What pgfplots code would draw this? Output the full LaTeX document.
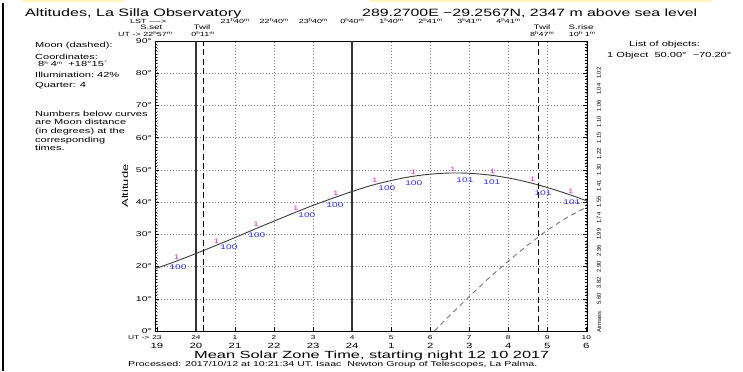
\documentclass[border=0pt]{standalone}
\usepackage{pgfplots}
\pgfplotsset{compat=1.18}
\usepackage{graphicx}
\usepackage{fontspec}
\setmainfont{Liberation Sans}
\newfontfamily\pg[FakeStretch=1.5]{Liberation Sans}
\newfontfamily\pgw[FakeStretch=1.58]{Liberation Sans}
\newcommand\fs[1]{\fontsize{#1}{#1}\selectfont}
\newcommand\su[1]{\raisebox{2bp}{\fontsize{4.2}{4.2}\selectfont #1}}
\definecolor{mag}{RGB}{235,40,225}
\definecolor{blu}{RGB}{45,45,235}
\definecolor{crv}{RGB}{60,60,60}
\definecolor{moon}{RGB}{120,120,120}
\definecolor{gridc}{RGB}{130,130,130}
\definecolor{ylw}{RGB}{255,244,185}

\pgfplotstableread{
x y
-1.05 19.3
-0.5 21.7
0 24.05
0.5 26.5
1 29.0
1.5 31.6
2 34.1
2.5 36.6
3 39.0
3.5 41.2
4 43.3
4.5 45.2
5 46.7
5.5 47.9
6 48.67
6.5 49.03
7 48.95
7.5 48.43
8 47.5
8.5 46.18
9 44.53
9.5 42.6
10 40.45
10.017 40.35
}\objtab

\pgfplotstableread{
x y
6.103 0
6.5 4.8
7 10.7
7.5 16.4
8 21.7
8.5 26.7
9 31.3
9.5 35.2
10 38.45
10.017 38.55
}\moontab

\pgfplotstableread{
x y lab
-0.5 21.7 1
0.52 26.6 1
1.54 31.8 1
2.56 36.9 1
3.58 41.5 1
4.58 45.45 1
5.57 48.0 1
6.58 49.05 1
7.6 48.25 1
8.62 45.8 1
9.6 42.2 1
}\magtab

\pgfplotstableread{
x y lab
-0.46 21.9 100
0.845 28.2 100
1.56 31.9 100
2.84 38.2 100
3.56 41.4 100
4.89 46.4 100
5.58 48.0 100
6.89 49.0 101
7.58 48.3 101
8.89 44.9 101
9.63 42.1 101
}\blutab

\pgfplotstableread{
x y ut loc
-1 0 23 19
0 0 24 20
1 0 1 21
2 0 2 22
3 0 3 23
4 0 4 24
5 0 5 1
6 0 6 2
7 0 7 3
8 0 8 4
9 0 9 5
10 0 10 6
}\ticktab

\begin{document}
\begin{tikzpicture}[x=1bp,y=1bp]
\useasboundingbox (0,0) rectangle (743,371);
\fill[white] (0,0) rectangle (743,371);
\fill[ylw] (23,369) rectangle (125,371);
\fill[ylw] (370,369) rectangle (712,371);
\fill[black] (2,0) rectangle (4,368);
\begin{axis}[
  at={(155bp,40bp)}, anchor=south west,
  scale only axis, width=432bp, height=290bp,
  xmin=-1.05, xmax=10.017, ymin=0, ymax=90,
  clip=false,
  axis line style={black, line width=0.8bp},
  xtick={-1,0,...,10}, xticklabels={},
  ytick={0,10,...,90},
  yticklabels={0°,10°,20°,30°,40°,50°,60°,70°,80°,90°},
  minor y tick num=9,
  xtick pos=bottom, ytick pos=both, yticklabel pos=left,
  tick align=inside,
  major tick length=4bp, minor tick length=2bp,
  tick style={black, line width=0.5bp},
  yticklabel style={font=\pg\fs{7}, anchor=east, inner sep=0pt, xshift=-3bp},
  grid=major,
  major grid style={gridc, line width=0.5bp, dash pattern=on 1bp off 2bp},
  lbl/.style={only marks, mark=none, nodes near coords, point meta=explicit symbolic},
]
% object curve
\addplot[crv, line width=0.9bp, mark=none, smooth] table[x=x,y=y] {\objtab};
% moon
\addplot[moon, line width=0.9bp, mark=none, dash pattern=on 5bp off 4bp] table[x=x,y=y] {\moontab};
% UT midnight and local midnight
\addplot[black!80, line width=1.4bp, mark=none] coordinates {(0,0) (0,90)};
\addplot[black!80, line width=1.4bp, mark=none] coordinates {(4,0) (4,90)};
% twilights
\addplot[black, line width=1bp, mark=none, dash pattern=on 6bp off 3.5bp] coordinates {(0.183,0) (0.183,90)};
\addplot[black, line width=1bp, mark=none, dash pattern=on 6bp off 3.5bp] coordinates {(8.783,0) (8.783,90)};
% object markers
\addplot[lbl,
  nodes near coords style={font=\pg\fs{6.5}, text=mag, anchor=south, inner sep=0pt, yshift=1.5bp}]
  table[x=x,y=y,meta=lab] {\magtab};
\addplot[lbl,
  nodes near coords style={font=\pg\fs{6.8}, text=blu, anchor=north, inner sep=0pt, yshift=-4.5bp}]
  table[x=x,y=y,meta=lab] {\blutab};
% tick label rows
\addplot[lbl,
  nodes near coords style={font=\pg\fs{5.6}, text=black, anchor=center, inner sep=0pt, yshift=-6.5bp}]
  table[x=x,y=y,meta=ut] {\ticktab};
\addplot[lbl,
  nodes near coords style={font=\pg\fs{7.6}, text=black, anchor=center, inner sep=0pt, yshift=-14.5bp}]
  table[x=x,y=y,meta=loc] {\ticktab};
\end{axis}

% titles
\node[anchor=base west, inner sep=0pt] at (25,355) {\pg\fs{10.8}Altitudes, La Silla Observatory};
\node[anchor=base west, inner sep=0pt] at (362,355) {\pg\fs{10.6}289.2700E −29.2567N, 2347 m above sea level};

% top annotations
\node[anchor=base west, inner sep=0pt] at (130,347.5) {\pg\fs{6}LST ---->};
\node[anchor=base west, inner sep=0pt] at (140,341.5) {\pg\fs{6.5}S.set};
\node[anchor=base west, inner sep=0pt] at (118,335) {\pg\fs{6}UT -> 22\su{h}57\su{m}};
\node[anchor=base, inner sep=0pt] at (202,341.5) {\pg\fs{6.5}Twil};
\node[anchor=base, inner sep=0pt] at (203,335) {\pg\fs{6}0\su{h}11\su{m}};
\node[anchor=base, inner sep=0pt] at (542,341.5) {\pg\fs{6.5}Twil};
\node[anchor=base, inner sep=0pt] at (542,335) {\pg\fs{6}8\su{h}47\su{m}};
\node[anchor=base, inner sep=0pt] at (581,341.5) {\pg\fs{6.5}S.rise};
\node[anchor=base, inner sep=0pt] at (582,335) {\pg\fs{6}10\su{h} 1\su{m}};
\foreach \xx/\tt in {235.0/21\su{h}40\su{m}, 274.0/22\su{h}40\su{m}, 313.1/23\su{h}40\su{m}, 352.1/0\su{h}40\su{m}, 391.2/1\su{h}40\su{m}, 430.2/2\su{h}41\su{m}, 469.3/3\su{h}41\su{m}, 508.3/4\su{h}41\su{m}}{
  \node[anchor=base, inner sep=0pt] at (\xx,348) {\pg\fs{6}\tt};
}

% left info block
\begin{scope}[every node/.style={anchor=base west, inner sep=0pt, font=\pg\fs{7.4}}]
\node at (35,324) {Moon (dashed):};
\node at (35,312) {Coordinates:};
\node at (38,305) {8\su{h} 4\su{m}\ \ +18°15`};
\node at (35,294) {Illumination:};
\node at (97,294) {42\%};
\node at (35,284) {Quarter: 4};
\node at (35,255) {Numbers below curves};
\node at (35,246.3) {are Moon distance};
\node at (35,237.6) {(in degrees) at the};
\node at (35,228.9) {corresponding};
\node at (35,220.2) {times.};
\node at (629,325) {List of objects:};
\node at (607,314) {1 Object\ \ 50.00°\ \ −70.20°};
\end{scope}

% y label
\node[rotate=90, anchor=center, inner sep=0pt] at (125,185) {\pg\fs{8.6}Altitude};

% airmass labels
\foreach \a/\t in {80/1.02,75/1.04,70/1.06,65/1.10,60/1.15,55/1.22,50/1.30,45/1.41,40/1.55,35/1.74,30/1.99,25/2.36,20/2.90,15/3.82,10/5.60}{
  \node[rotate=90, anchor=center, inner sep=0pt, font=\fs{5.8}] at (599,{40+\a*3.2222}) {\t};
}
\node[rotate=90, anchor=center, inner sep=0pt, font=\fs{5.8}] at (599,49) {Airmass};

% bottom
\node[anchor=west, inner sep=0pt] at (128,33.5) {\pg\fs{5.6}UT ->};
\node[anchor=base west, inner sep=0pt] at (194,12.5) {\pgw\fs{10.4}Mean Solar Zone Time, starting night 12 10 2017};
\node[anchor=base west, inner sep=0pt] at (128,4.2) {\pg\fs{7.1}Processed: 2017/10/12 at 10:21:34 UT. Isaac\ \ Newton Group of Telescopes, La Palma.};
\end{tikzpicture}
\end{document}
